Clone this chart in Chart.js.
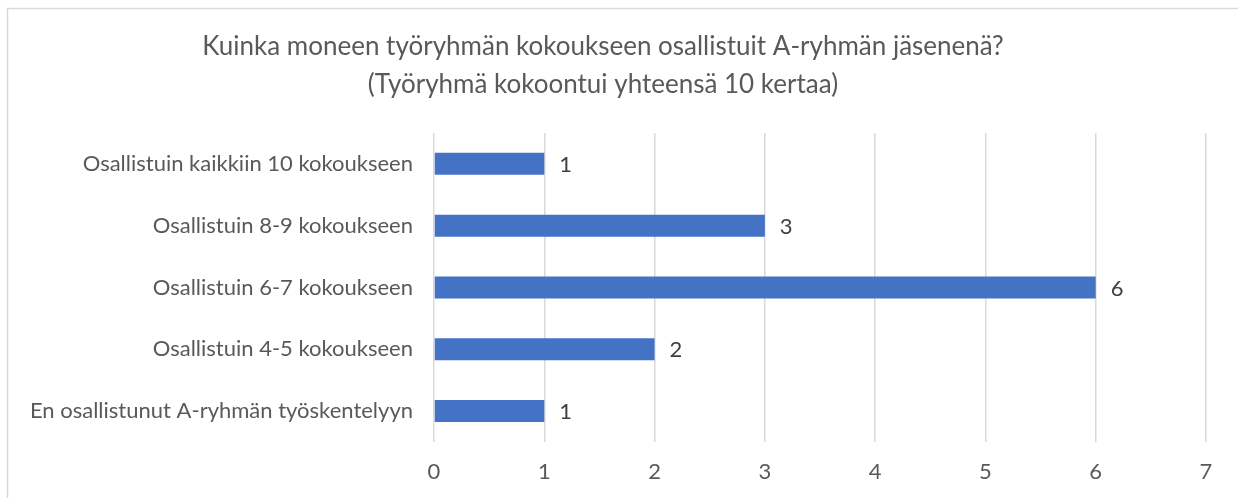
<!DOCTYPE html>
<html>
<head>
<meta charset="utf-8">
<script src="https://cdn.jsdelivr.net/npm/chart.js@4.4.0/dist/chart.umd.min.js"></script>
<style>
  html, body { margin: 0; padding: 0; background: #fff; }
  #wrap { position: relative; width: 1238px; height: 498px; }
</style>
</head>
<body>
<div id="wrap"><canvas id="c" width="1238" height="498"></canvas></div>
<script>
const titleLines = ["Kuinka moneen työryhmän kokoukseen osallistuit A-ryhmän jäsenenä?", "(Työryhmä kokoontui yhteensä 10 kertaa)"];
const categories = [
  "Osallistuin kaikkiin 10 kokoukseen",
  "Osallistuin 8-9 kokoukseen",
  "Osallistuin 6-7 kokoukseen",
  "Osallistuin 4-5 kokoukseen",
  "En osallistunut A-ryhmän työskentelyyn"
];
const values = [1, 3, 6, 2, 1];
const xMin = 0, xMax = 7, xStep = 1;

const FONT = "Lato, 'Open Sans', sans-serif";

const borderPlugin = {
  id: 'frame',
  beforeDraw(chart) {
    const ctx = chart.ctx;
    ctx.save();
    ctx.fillStyle = '#fff';
    ctx.fillRect(0, 0, chart.width, chart.height);
    ctx.strokeStyle = '#d9d9d9';
    ctx.lineWidth = 1.5;
    ctx.beginPath();
    ctx.moveTo(7.5, chart.height + 5);
    ctx.lineTo(7.5, 8.5);
    ctx.lineTo(chart.width + 5, 8.5);
    ctx.stroke();
    ctx.restore();
  }
};

const labelPlugin = {
  id: 'vals',
  afterDatasetsDraw(chart) {
    const ctx = chart.ctx;
    const meta = chart.getDatasetMeta(0);
    ctx.save();
    ctx.font = "22px " + FONT;
    ctx.fillStyle = '#404040';
    ctx.textAlign = 'left';
    ctx.textBaseline = 'middle';
    meta.data.forEach((bar, i) => {
      ctx.fillText(String(chart.data.datasets[0].data[i]), bar.x + 15, bar.y + 1);
    });
    ctx.restore();
  }
};

new Chart(document.getElementById('c'), {
  type: 'bar',
  data: {
    labels: categories,
    datasets: [{
      data: values,
      backgroundColor: '#4472C4',
      borderWidth: 0,
      categoryPercentage: 1,
      barPercentage: 0.356
    }]
  },
  options: {
    indexAxis: 'y',
    responsive: false,
    animation: false,
    devicePixelRatio: 1,
    layout: { padding: { left: 0, right: 32, top: 0, bottom: 0 } },
    plugins: {
      legend: { display: false },
      tooltip: { enabled: false },
      title: {
        display: true,
        text: titleLines,
        color: '#595959',
        font: { family: FONT, size: 26, weight: 'normal', lineHeight: 1.46 },
        padding: { top: 28, bottom: 29 }
      }
    },
    scales: {
      x: {
        min: xMin, max: xMax,
        ticks: { stepSize: xStep, color: '#595959', font: { family: FONT, size: 22 }, padding: 17 },
        grid: { color: '#d9d9d9', lineWidth: 1.5, drawTicks: false },
        border: { display: false },
        afterFit(s) { s.height = 56; }
      },
      y: {
        ticks: { color: '#595959', font: { family: FONT, size: 22 }, padding: 21 },
        grid: { display: false, drawTicks: false },
        border: { display: false },
        afterFit(s) { s.width = 434; }
      }
    }
  },
  plugins: [borderPlugin, labelPlugin]
});
</script>
</body>
</html>
